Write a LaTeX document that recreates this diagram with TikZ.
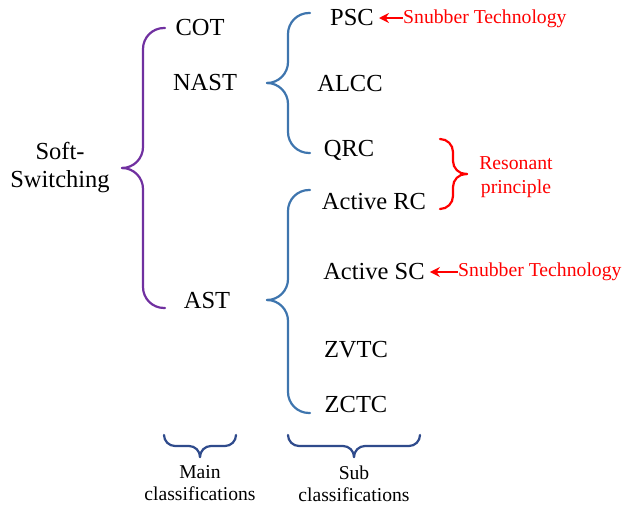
\documentclass[tikz,border=0pt]{standalone}
\usepackage{fontspec}
\setmainfont{Liberation Serif}
\usepackage{xcolor}
\usepackage{tikz}
\usetikzlibrary{arrows.meta}
\definecolor{mainpurple}{HTML}{7030A0}
\definecolor{subblue}{HTML}{3E75AE}
\definecolor{capnavy}{HTML}{2F4B8C}
\tikzstyle{term}=[inner sep=0pt,anchor=base,font=\fontsize{24.5}{28}\selectfont]
\tikzstyle{note}=[inner sep=0pt,anchor=base,text=red,font=\fontsize{19.7}{23.5}\selectfont]
\tikzstyle{caption}=[inner sep=0pt,align=center,font=\fontsize{19.6}{22}\selectfont]
\tikzstyle{brace}=[line width=2.2pt,line cap=round,rounded corners=21pt]
\tikzstyle{pointer}=[red,line width=2pt,-{Stealth[length=10pt,width=10pt]},shorten >=5pt]

\begin{document}
\begin{tikzpicture}[x=1pt,y=-1pt]
        \useasboundingbox (0,0) rectangle (625,510);
        % main classifications
        \node at ( 60,168) [term,anchor=center,align=center] (soft) {Soft-\\Switching};
        \node at (200, 36) [term] (cot) {COT};
        \node at (205, 91) [term] (nast) {NAST};
        \node at (207,309) [term] (ast) {AST};
        \draw [brace,mainpurple] (165, 28) -| (143,168) -- (122,168);
        \draw [brace,mainpurple] (165,308) -| (143,168) -- (122,168);
        % sub classifications
        \node at (352, 26) [term] (psc) {PSC};
        \node at (350, 92) [term] (alcc) {ALCC};
        \node at (349,157) [term] (qrc) {QRC};
        \node at (374,210) [term] (arc) {Active RC};
        \node at (374,280) [term] (asc) {Active SC};
        \node at (356,358) [term] (zvtc) {ZVTC};
        \node at (356,413) [term] (zctc) {ZCTC};
        \draw [brace,subblue] (310, 13) -| (288, 83) -- (267, 83);
        \draw [brace,subblue] (310,153) -| (288, 83) -- (267, 83);
        \draw [brace,subblue] (310,190) -| (288,300) -- (267,300);
        \draw [brace,subblue] (310,413) -| (288,300) -- (267,300);
        % notes
        \node at (403, 24) [note,anchor=base west] (snubA) {Snubber Technology};
        \node at (458,277) [note,anchor=base west] (snubB) {Snubber Technology};
        \node at (516,177) [note,anchor=center,align=center] (reson) {Resonant\\principle};
        \draw [pointer] (psc.east -| snubA.west) -- (psc.east);
        \draw [pointer] (asc.east -| snubB.west) -- (asc.east);
        \draw [brace,red,rounded corners=13pt] (440,139) -| (453,174) -- (467,174);
        \draw [brace,red,rounded corners=13pt] (440,209) -| (453,174) -- (467,174);
        % captions
        \draw [brace,capnavy,rounded corners=11pt] (164,435) |- (200,446) -- (200,457);
        \draw [brace,capnavy,rounded corners=11pt] (236,435) |- (200,446) -- (200,457);
        \draw [brace,capnavy,rounded corners=11pt] (288,435) |- (354,446) -- (354,457);
        \draw [brace,capnavy,rounded corners=11pt] (420,435) |- (354,446) -- (354,457);
        \node at (200,483) [caption] (mainc) {Main\\classifications};
        \node at (354,484) [caption] (subc) {Sub\\classifications};
      \end{tikzpicture}
\end{document}
